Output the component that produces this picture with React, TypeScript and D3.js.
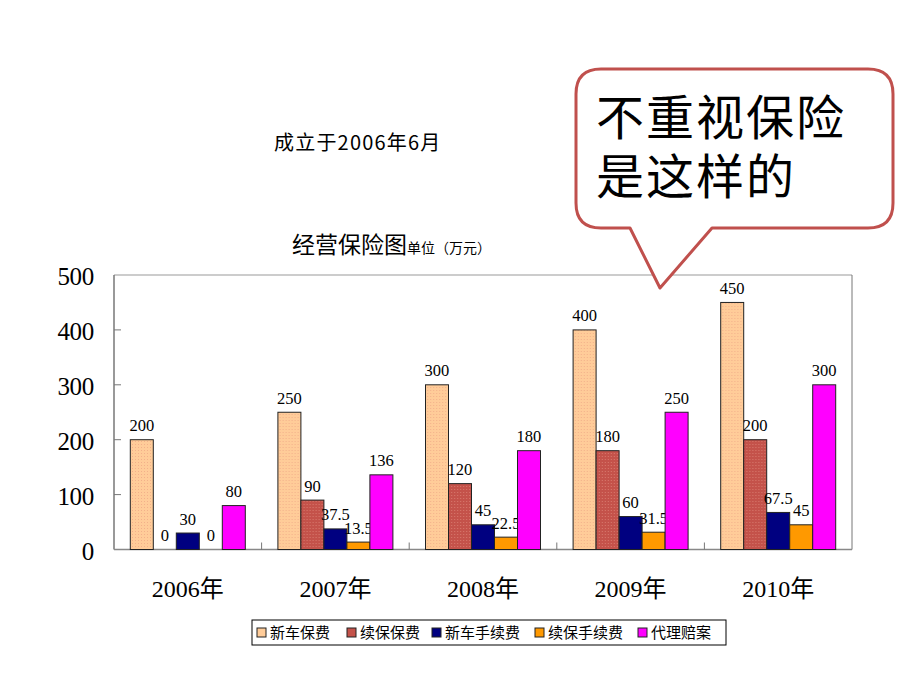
import React from "react";
import * as d3 from "d3";

const years = ["2006年", "2007年", "2008年", "2009年", "2010年"];
const seriesNames = ["新车保费", "续保保费", "新车手续费", "续保手续费", "代理赔案"];
const seriesColors = ["#FFCC99", "#C4524A", "#000080", "#FF9900", "#FF00FF"];
const newCarPremium = [200, 250, 300, 400, 450];
const renewalPremium = [0, 90, 120, 180, 200];
const newCarFee = [30, 37.5, 45, 60, 67.5];
const renewalFee = [0, 13.5, 22.5, 31.5, 45];
const claimsAgency = [80, 136, 180, 250, 300];
const seriesValues = [newCarPremium, renewalPremium, newCarFee, renewalFee, claimsAgency];
const yTicks = [0, 100, 200, 300, 400, 500];
const calloutLines = ["不重视保险", "是这样的"];

const serif = "'Liberation Serif', 'Noto Sans CJK SC', serif";
const cjk = "'Noto Sans CJK SC', sans-serif";

export default function App() {
  const W = 920, H = 690;
  const left = 114, right = 852, top = 275, bottom = 549.5;
  const x0 = d3.scaleBand<string>().domain(years).range([left, right]).paddingInner(0).paddingOuter(0);
  const gw = x0.bandwidth();
  const barW = 23;
  const inner = barW * seriesNames.length;
  const x1 = d3.scaleBand<number>().domain(d3.range(seriesNames.length)).range([(gw - inner) / 2, (gw + inner) / 2]);
  const y = d3.scaleLinear().domain([0, 500]).range([bottom, top]);

  const fmt = (v: number) => (Number.isInteger(v) ? String(v) : v.toFixed(1));

  const legX = 252, legY = 620, legW = 474, legH = 25;
  const legendStarts = [257, 347, 432, 535, 638];

  return (
    <div style={{ margin: -8 }}>
      <svg width={W} height={H} style={{ display: "block", background: "#fff" }}>
        <defs>
          <pattern id="dots" width="3" height="3" patternUnits="userSpaceOnUse">
            <rect width="3" height="3" fill="#FFCC99" />
            <rect x="0" y="0" width="1" height="1" fill="#F2B08A" />
          </pattern>
          <pattern id="dots2" width="3" height="3" patternUnits="userSpaceOnUse">
            <rect width="3" height="3" fill="#C4524A" />
            <rect x="0" y="0" width="1" height="1" fill="#D87A6E" />
          </pattern>
        </defs>

        <text x={274} y={150} fontFamily={cjk} fontSize={20} letterSpacing={1.2} fill="#000">成立于2006年6月</text>
        <text x={292} y={253} fontFamily={cjk} fontSize={23} fill="#000">
          经营保险图<tspan fontSize={14}>单位（万元）</tspan>
        </text>

        <line x1={left} x2={right} y1={top} y2={top} stroke="#999" strokeWidth={1} />
        <line x1={right} x2={right} y1={top} y2={bottom} stroke="#777" strokeWidth={1} />
        <line x1={left} x2={left} y1={top} y2={bottom} stroke="#777" strokeWidth={1.5} />
        <line x1={left} x2={right} y1={bottom} y2={bottom} stroke="#888" strokeWidth={1.5} />

        {yTicks.map((t) => (
          <g key={t}>
            {t > 0 && t < 500 && (
              <line x1={left} x2={left + 7} y1={y(t)} y2={y(t)} stroke="#777" />
            )}
            <text x={94} y={y(t) + 10} textAnchor="end" fontFamily={serif} fontSize={25} letterSpacing={-0.3} fill="#000">
              {t}
            </text>
          </g>
        ))}

        {years.slice(1).map((yr) => (
          <line key={yr} x1={x0(yr)!} x2={x0(yr)!} y1={bottom - 7} y2={bottom} stroke="#777" />
        ))}

        {years.map((yr) => (
          <text key={yr} x={x0(yr)! + gw / 2} y={597} textAnchor="middle" fontFamily={serif} fontSize={24} fill="#000">
            {yr}
          </text>
        ))}

        {years.map((yr, gi) => (
          <g key={yr} transform={`translate(${x0(yr)},0)`}>
            {seriesValues.map((vals, si) => {
              const v = vals[gi];
              const bx = x1(si)!;
              const fill = si === 0 ? "url(#dots)" : si === 1 ? "url(#dots2)" : seriesColors[si];
              return (
                <g key={si}>
                  {v > 0 && (
                    <rect x={bx} y={y(v)} width={barW} height={bottom - y(v)} fill={fill} stroke="#222" strokeWidth={1} />
                  )}
                  <text x={bx + barW / 2} y={y(v) - 8.5} textAnchor="middle" fontFamily={serif} fontSize={16.5} fill="#000">
                    {fmt(v)}
                  </text>
                </g>
              );
            })}
          </g>
        ))}

        <rect x={legX} y={legY} width={legW} height={legH} fill="#fff" stroke="#000" strokeWidth={1} />
        {seriesNames.map((n, i) => (
          <g key={n}>
            <rect x={legendStarts[i]} y={legY + 8} width={9} height={9} fill={seriesColors[i]} stroke="#222" />
            <text x={legendStarts[i] + 13} y={legY + 18} fontFamily={cjk} fontSize={15} fill="#000">
              {n}
            </text>
          </g>
        ))}

        <path
          d="M 601 69 L 868 69 Q 893 69 893 94 L 893 203 Q 893 228 868 228 L 712 228 L 660 288 L 630 228 L 601 228 Q 576 228 576 203 L 576 94 Q 576 69 601 69 Z"
          fill="#fff"
          stroke="#C0504D"
          strokeWidth={3}
          strokeLinejoin="round"
        />
        <text fontFamily={cjk} fontSize={48} letterSpacing={2} fill="#000">
          <tspan x={596} y={135}>{calloutLines[0]}</tspan>
          <tspan x={596} y={194}>{calloutLines[1]}</tspan>
        </text>
      </svg>
    </div>
  );
}
